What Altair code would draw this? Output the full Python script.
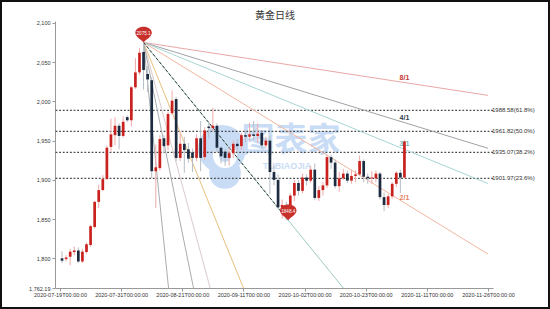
import altair as alt
import pandas as pd

# ---------------- data ----------------
opens = [1800, 1799, 1802, 1808, 1810, 1796, 1808, 1817, 1840, 1872,
         1887, 1901, 1942, 1957, 1969, 1956, 1980, 1976, 2018, 2037,
         2063, 2035, 2027, 1911, 1915, 1953, 1944, 1985, 2003, 1928,
         1946, 1939, 1935, 1928, 1953, 1929, 1968, 1966, 1969, 1941,
         1936, 1928, 1934, 1946, 1943, 1957, 1955, 1958, 1956, 1960,
         1944, 1950, 1910, 1900, 1865, 1868, 1862, 1880, 1896, 1886,
         1903, 1899, 1913, 1877, 1887, 1893, 1929, 1922, 1892, 1902,
         1908, 1899, 1905, 1907, 1924, 1904, 1902, 1902, 1908, 1878,
         1868, 1879, 1895, 1909, 1903]
highs = [1809, 1804, 1812, 1815, 1814, 1812, 1820, 1843, 1873, 1894,
         1906, 1944, 1978, 1980, 1972, 1981, 1982, 2020, 2055, 2068,
         2075.17, 2045, 2031, 1945, 1957, 1957, 1987, 2014, 2006, 1960,
         1955, 1947, 1940, 1958, 1975, 1967, 1974, 1992, 1972, 1943,
         1940, 1941, 1950, 1952, 1960, 1962, 1973, 1975, 1972, 1962,
         1955, 1956, 1918, 1907, 1875, 1872, 1883, 1900, 1900, 1908,
         1907, 1918, 1921, 1892, 1897, 1932, 1932, 1926, 1910, 1914,
         1912, 1913, 1912, 1931, 1926, 1908, 1911, 1912, 1910, 1884,
         1882, 1897, 1911, 1913, 1951]
lows = [1794, 1796, 1791, 1804, 1794, 1794, 1806, 1815, 1838, 1864,
        1886, 1900, 1936, 1944, 1939, 1954, 1974, 1968, 2016, 2034,
        2015, 2012, 1902, 1864, 1912, 1934, 1938, 1983, 1924, 1924,
        1909, 1922, 1910, 1924, 1911, 1925, 1953, 1962, 1935, 1921,
        1918, 1918, 1928, 1937, 1938, 1948, 1950, 1950, 1948, 1940,
        1940, 1882, 1893, 1862, 1850.5, 1848.47, 1856, 1873, 1880, 1883,
        1893, 1896, 1874, 1873, 1880, 1890, 1914, 1889, 1885, 1900,
        1896, 1895, 1897, 1905, 1897, 1895, 1895, 1897, 1875, 1860,
        1864, 1876, 1891, 1883, 1902]
closes = [1797, 1801, 1808.5, 1810, 1796, 1808.5, 1818, 1841, 1872, 1887,
          1901, 1941, 1958, 1969, 1956, 1974, 1976, 2018, 2037, 2062,
          2040, 2028, 1911, 1916, 1952, 1943, 1984, 2001, 1928, 1946,
          1938, 1927, 1928, 1953, 1928, 1963, 1966, 1969, 1941, 1930,
          1928, 1934, 1946, 1943, 1957, 1955, 1958, 1956, 1959, 1944,
          1950, 1910, 1900, 1865, 1868, 1862, 1880, 1896, 1886, 1903,
          1899, 1913, 1877, 1887, 1893, 1929, 1922, 1892, 1902, 1908,
          1899, 1905, 1907, 1924, 1904, 1902, 1903, 1908, 1878, 1868,
          1879, 1895, 1909, 1903, 1949]

x_tick_pos = [0, 15, 30, 45, 60, 75, 90, 105]
x_tick_labels = ["2020-07-19T00:00:00", "2020-07-31T00:00:00", "2020-08-21T00:00:00",
                 "2020-09-11T00:00:00", "2020-10-02T00:00:00", "2020-10-23T00:00:00",
                 "2020-11-11T00:00:00", "2020-11-26T00:00:00"]
y_ticks = [1762.19, 1800, 1850, 1900, 1950, 2000, 2050, 2100]
y_domain = [1762.19, 2102.5]
x_domain = [0, 105]

fib_levels = [1988.58, 1961.82, 1935.07, 1901.97]
fib_labels = ["1988.58(61.8%)", "1961.82(50.0%)", "1935.07(38.2%)", "1901.97(23.6%)"]

peak_pos, peak_price, peak_text = 20.5, 2075.17, "2075.1"
low_pos, low_price, low_text = 56.0, 1848.47, "1848.4"

fan_names = ["8/1", "4/1", "3/1", "2/1", "1/1", "1/2", "1/3", "1/4", "1/8"]
fan_ratio = [8, 4, 3, 2, 1, 1 / 2, 1 / 3, 1 / 4, 1 / 8]
fan_colors = ["#e9a7a7", "#9ea3a8", "#a9d5d5", "#f0b7a0", "#9fcbc1",
              "#e9c07c", "#dccbcb", "#a9adb0", "#a9adb0"]
fan_label_names = ["8/1", "4/1", "3/1", "2/1"]
fan_label_colors = ["#c23531", "#2f3e4e", "#6fb7b7", "#e8805f"]
fan_label_pos = 84.5

title_text = "黄金日线"
watermark_text = "图表家"
watermark_sub = "TUBIAOJIA"

# ---------------- tables ----------------
n = len(opens)
candles = pd.DataFrame({
    "pos": [i + 0.5 for i in range(n)],
    "open": opens, "high": highs, "low": lows, "close": closes,
})

k = (peak_price - low_price) / (low_pos - peak_pos)
fan_rows = []
for name, r in zip(fan_names, fan_ratio):
    fan_rows.append({"name": name, "pos": peak_pos, "price": peak_price})
    fan_rows.append({"name": name, "pos": x_domain[1],
                     "price": peak_price - k / r * (x_domain[1] - peak_pos)})
fan = pd.DataFrame(fan_rows)

fan_lab = pd.DataFrame({
    "lab": fan_label_names,
    "pos": [fan_label_pos] * len(fan_label_names),
    "price": [peak_price - k / fan_ratio[fan_names.index(nm)] * (fan_label_pos - peak_pos)
              for nm in fan_label_names],
})

diag = pd.DataFrame({"pos": [peak_pos, low_pos], "price": [peak_price, low_price]})
pins = pd.DataFrame({"pos": [peak_pos, low_pos], "price": [peak_price, low_price],
                     "text": [peak_text, low_text]})
fib = pd.DataFrame({"level": fib_levels, "label": fib_labels, "pos": [x_domain[1]] * 4})
one = pd.DataFrame({"a": [0]})

# ---------------- encodings ----------------
FONT = "Liberation Sans"
label_expr = "[" + ",".join("'" + s + "'" for s in x_tick_labels) + "][round(datum.value/15)]"
X = alt.X("pos:Q", scale=alt.Scale(domain=x_domain, nice=False, zero=False),
          axis=alt.Axis(values=x_tick_pos, labelExpr=label_expr, title=None, grid=False,
                        labelFontSize=5.5, labelColor="#333", labelFont=FONT,
                        tickSize=3, tickColor="#999", domainColor="#999",
                        labelPadding=1, labelOverlap=False, labelFlush=False))
Y_AX = alt.Axis(values=y_ticks, format=",.2~f", title=None, grid=False,
                labelFontSize=5.5, labelColor="#333", labelFont=FONT,
                tickSize=3, tickColor="#999", domainColor="#999", labelPadding=2)
YS = alt.Scale(domain=y_domain, nice=False, zero=False)


def Y(field):
    return alt.Y(field, scale=YS, axis=Y_AX)


UP = alt.datum.close >= alt.datum.open
WM = "#c9dcf5"

# watermark (logo blob + text)
wm_blob = alt.Chart(one).mark_point(shape="circle", filled=True, size=2300, color=WM,
                                    opacity=1).encode(x=alt.value(167), y=alt.value(128))
wm_blob2 = alt.Chart(one).mark_point(shape="circle", filled=True, size=1000, color=WM,
                                     opacity=1).encode(x=alt.value(170), y=alt.value(152))
wm_hole = alt.Chart(one).mark_arc(radius=12, radius2=6, theta=0.6, theta2=5.2,
                                  color="white").encode(x=alt.value(170), y=alt.value(135))
wm_text = alt.Chart(one).mark_text(text=watermark_text, fontSize=33, fontWeight="bold",
                                   color=WM, font="Noto Sans CJK SC",
                                   baseline="middle").encode(
    x=alt.value(236), y=alt.value(120))
wm_sub = alt.Chart(one).mark_text(text=watermark_sub, fontSize=9, fontWeight="bold",
                                  color=WM, font=FONT, baseline="middle").encode(
    x=alt.value(232), y=alt.value(145))

fib_rules = alt.Chart(fib).mark_rule(color="#4a4a4a", strokeDash=[1.8, 1.8],
                                     strokeWidth=1.2).encode(y=Y("level:Q"))
fib_text = alt.Chart(fib).mark_text(align="left", baseline="middle", dx=4, fontSize=6,
                                    color="#333", font=FONT).encode(
    x=X, y=Y("level:Q"), text="label:N")

fan_lines = alt.Chart(fan).mark_line(clip=True, strokeWidth=1).encode(
    x=X, y=Y("price:Q"), detail="name:N",
    color=alt.Color("name:N", scale=alt.Scale(domain=fan_names, range=fan_colors), legend=None))
diag_line = alt.Chart(diag).mark_line(color="#222", strokeDash=[3, 2], strokeWidth=0.9).encode(
    x=X, y=Y("price:Q"))
fan_text = alt.Chart(fan_lab).mark_text(fontSize=7, fontWeight="bold", dy=-5, font=FONT).encode(
    x=X, y=Y("price:Q"), text="lab:N",
    color=alt.Color("lab:N", scale=alt.Scale(domain=fan_label_names, range=fan_label_colors),
                    legend=None))

wicks = alt.Chart(candles).mark_rule(strokeWidth=1).encode(
    x=X, y=Y("low:Q"), y2="high:Q",
    color=alt.condition(UP, alt.value("#f0a9a9"), alt.value("#b5bdc6")))
bodies = alt.Chart(candles).mark_bar(size=2.7).encode(
    x=X, y=Y("open:Q"), y2="close:Q",
    color=alt.condition(UP, alt.value("#c9211e"), alt.value("#1c2b40")))

PIN = ("M0,0.9 C-0.35,0.5 -1,0.2 -1,-0.25 C-1,-0.72 -0.55,-1 0,-1 "
       "C0.55,-1 1,-0.72 1,-0.25 C1,0.2 0.35,0.5 0,0.9 Z")
pin_marks = alt.Chart(pins).mark_point(shape=PIN, filled=True, size=270, color="#c8302c",
                                       opacity=1, yOffset=-7.5).encode(x=X, y=Y("price:Q"))
pin_text = alt.Chart(pins).mark_text(fontSize=4.6, color="white", dy=-8.5, font=FONT).encode(
    x=X, y=Y("price:Q"), text="text:N")

title = alt.Chart(one).mark_text(text=title_text, fontSize=10, font="Noto Sans CJK SC",
                                 color="#333", baseline="middle").encode(
    x=alt.value(220), y=alt.value(-5))

frame = alt.Chart(one).mark_rect(fill=None, stroke="#111", strokeWidth=2).encode(
    x=alt.value(-54), x2=alt.value(494), y=alt.value(-20), y2=alt.value(287))

chart = alt.layer(
    wm_blob, wm_blob2, wm_hole, wm_text, wm_sub, fib_rules, fib_text, fan_lines, diag_line,
    fan_text, wicks, bodies, pin_marks, pin_text, title, frame
).resolve_scale(color="independent").properties(
    width=438, height=267,
    autosize=alt.AutoSizeParams(type="none"),
    padding={"left": 55, "top": 21, "right": 57, "bottom": 21},
    background="white",
).configure_view(stroke=None)

chart.save("out.html", embed_options={"renderer": "svg", "actions": False})
